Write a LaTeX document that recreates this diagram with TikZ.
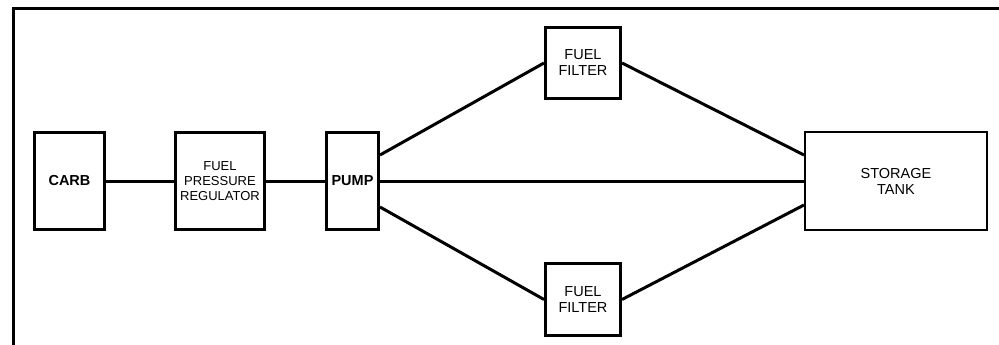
\documentclass[tikz,border=0pt]{standalone}
\usepackage{fontspec}
\setmainfont{Liberation Sans}
\usetikzlibrary{calc}
\tikzset{
  unit/.style={draw=black, line width=3pt, inner sep=0pt, align=center,
    font=\fontsize{14.5}{16}\selectfont},
  boldunit/.style={unit, font=\bfseries\fontsize{14.5}{16}\selectfont},
  pipe/.style={draw=black, line width=3pt},
  frameline/.style={draw=black, line width=3pt}
}
\begin{document}
\begin{tikzpicture}[x=1pt,y=-1pt]
\useasboundingbox[fill=white] (0,0) rectangle (999,345);
% frame (top and left edges)
\coordinate (fbl) at (13.5,346);
\coordinate (ftl) at (13.5,8.5);
\coordinate (ftr) at (1000,8.5);
\draw[frameline] (fbl) -- (ftl) -- (ftr);
% units
\node[boldunit, minimum width=70pt, minimum height=97pt] (carb) at (69.5,181) {CARB};
\node[unit, minimum width=89pt, minimum height=97pt, font=\fontsize{13}{15}\selectfont] (fpr) at (220,181) {FUEL\\PRESSURE\\REGULATOR};
\node[boldunit, minimum width=52pt, minimum height=97pt] (pump) at (352.5,181) {PUMP};
\node[unit, minimum width=75pt, minimum height=71pt] (ftop) at (583,63) {FUEL\\FILTER};
\node[unit, minimum width=75pt, minimum height=72pt] (fbot) at (583,299.5) {FUEL\\FILTER};
\node[unit, line width=2pt, minimum width=182pt, minimum height=98pt] (tank) at (896,181) {STORAGE\\TANK};
% pipes
\draw[pipe] (carb.east) -- (fpr.west);
\draw[pipe] (fpr.east) -- (pump.west);
\draw[pipe] (pump.east) -- (tank.west);
\draw[pipe] ($(pump.east)+(0,-26)$) -- (ftop.west);
\draw[pipe] (ftop.east) -- ($(tank.west)+(0,-26)$);
\draw[pipe] ($(pump.east)+(0,26)$) -- (fbot.west);
\draw[pipe] (fbot.east) -- ($(tank.west)+(0,24)$);
\end{tikzpicture}
\end{document}
